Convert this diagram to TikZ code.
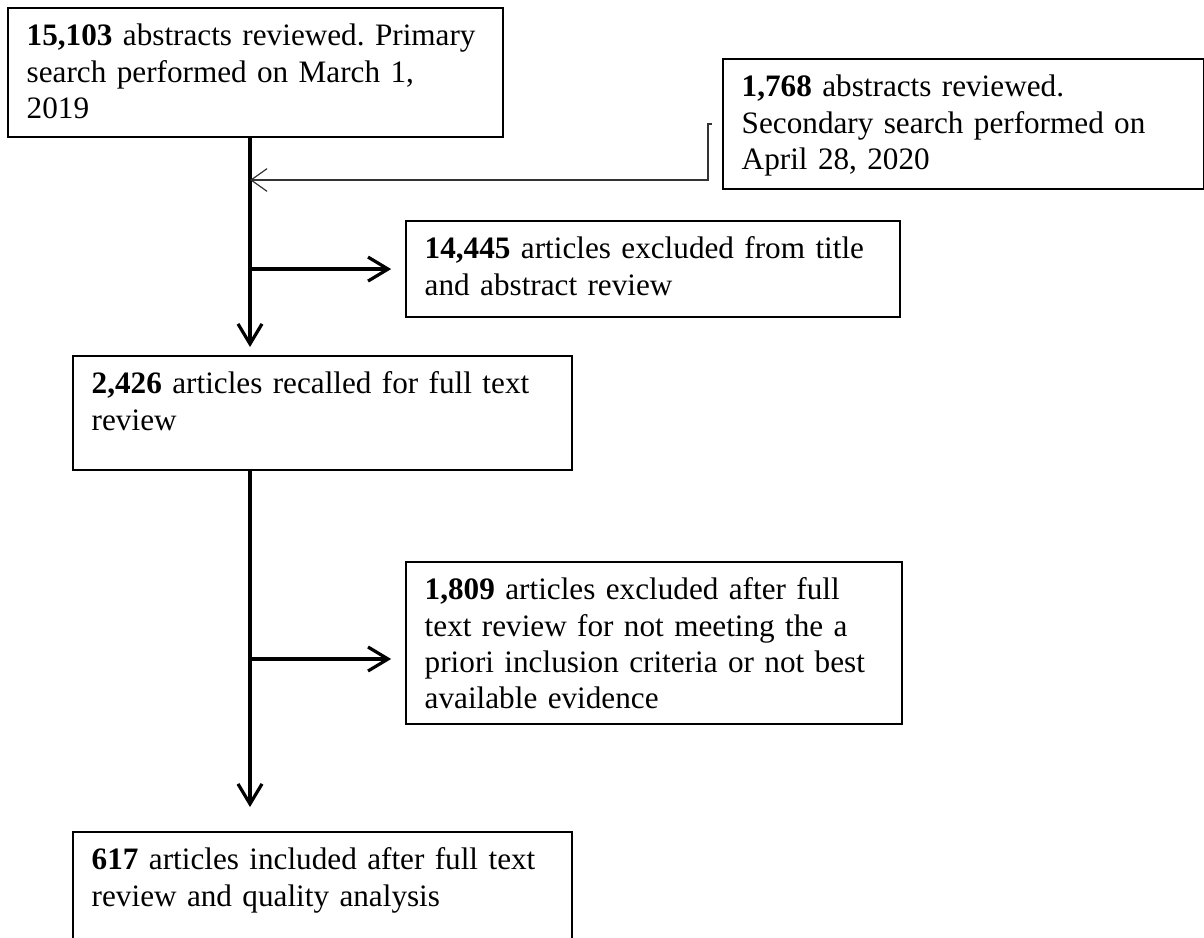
\documentclass[tikz,border=0pt]{standalone}
\usepackage{fontspec}
\setmainfont{Liberation Serif}
\usetikzlibrary{arrows.meta}
\hyphenpenalty=10000
\frenchspacing

\begin{document}
\begin{tikzpicture}[x=0.375pt,y=-0.375pt]
    \tikzstyle{box}=[draw,line width=0.8pt,anchor=north west,align=left,inner xsep=7pt,inner ysep=3.6pt,text height=10.6pt,font=\fontsize{11.7pt}{13.6pt}\selectfont]
    \tikzstyle{flow}=[line width=1.2pt,-{Straight Barb[length=7.5pt,width=9pt]}]
    \tikzstyle{feed}=[line width=0.45pt,black!80,-{Straight Barb[length=6pt,width=8.5pt]}]
    \clip (0,0) rectangle (1204,937);
    \node[box,text width=171.6pt,text depth=30.6pt] (primary) at (7,7)
      {\textbf{15,103} abstracts reviewed. Primary\\search performed on March 1,\\2019};
    \node[box,text width=166.4pt,text depth=30.95pt] (secondary) at (722,58)
      {\textbf{1,768} abstracts reviewed.\\Secondary search performed on\\April 28, 2020};
    \node[box,text width=171.25pt,text depth=18.2pt] (titleexcl) at (405,220)
      {\textbf{14,445} articles excluded from title\\and abstract review};
    \node[box,text width=173.1pt,text depth=24.95pt] (recalled) at (72,355)
      {\textbf{2,426} articles recalled for full text\\review};
    \node[box,text width=172pt,text depth=42.95pt] (fullexcl) at (405,561)
      {\textbf{1,809} articles excluded after full\\text review for not meeting the a\\priori inclusion criteria or not best\\available evidence};
    \node[box,text width=173.1pt,text depth=24.95pt] (included) at (72,831)
      {\textbf{617} articles included after full text\\review and quality analysis};
    \coordinate (trunk) at (250,0);
    \coordinate (merge) at (250,180);
    \draw[flow,shorten >=3pt] (primary.south -| trunk) -- (recalled.north -| trunk);
    \draw[flow,shorten >=5.2pt] (trunk |- titleexcl.west) -- (titleexcl.west);
    \draw[flow,shorten >=9pt] (recalled.south -| trunk) -- (included.north -| trunk);
    \draw[flow,shorten >=5.2pt] (trunk |- 0,659) -- (fullexcl.west |- 0,659);
    \draw[feed] ([xshift=-3.75pt]secondary.west) -- ++(-4,0) |- (merge);
\end{tikzpicture}
\end{document}
